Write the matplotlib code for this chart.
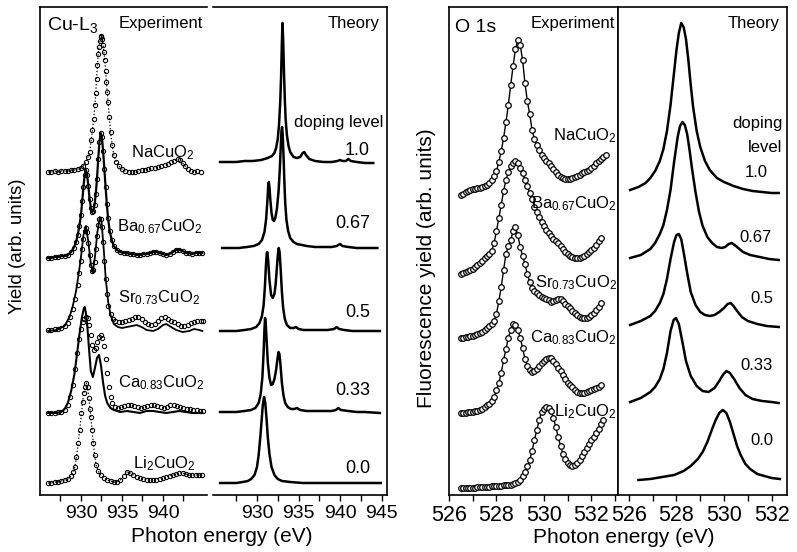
import numpy as np
import matplotlib.pyplot as plt

plt.rcParams['font.family'] = ['Liberation Sans', 'DejaVu Sans']
plt.rcParams['mathtext.default'] = 'regular'

# ---------------- Cu L3 edge, experiment (photon energy in eV, yield in arb. units, curves stacked) ----------------
na_e = [926.0, 926.4, 926.8, 927.2, 927.6, 928.0, 928.4, 928.8, 929.2, 929.6, 930.0, 930.3, 930.6, 930.85, 931.05,
        931.25, 931.4, 931.55, 931.7, 931.8, 931.9, 932.0, 932.1, 932.2, 932.3, 932.4, 932.5, 932.6, 932.7, 932.8,
        932.9, 933.0, 933.1, 933.2, 933.3, 933.45, 933.6, 933.8, 934.0, 934.3, 934.6, 935.0, 935.4, 935.8, 936.2,
        936.6, 937.0, 937.4, 937.8, 938.2, 938.6, 939.0, 939.4, 939.8, 940.2, 940.6, 941.0, 941.4, 941.8, 942.1,
        942.4, 942.7, 943.0, 943.4, 943.8, 944.2, 944.6]
na_y = [325, 325, 326, 325, 326, 326, 326, 327, 327, 328, 329, 331, 335, 340, 345, 357, 367, 378, 392, 404,
        418, 432, 443, 450, 456, 460, 461, 458, 452, 445, 437, 426, 415, 405, 395, 380, 365, 352, 342, 335,
        331, 328, 326, 325, 325, 325, 326, 327, 327, 328, 329, 329, 330, 331, 332, 333, 335, 336, 338, 337,
        334, 331, 328, 326, 325, 326, 325]

ba_e = [926.0, 926.4, 926.8, 927.2, 927.6, 928.0, 928.4, 928.8, 929.1, 929.4, 929.6, 929.8, 930.0, 930.15, 930.3,
        930.45, 930.6, 930.75, 930.9, 931.05, 931.2, 931.35, 931.5, 931.65, 931.8, 931.95, 932.1, 932.25, 932.4,
        932.55, 932.7, 932.85, 933.0, 933.15, 933.3, 933.5, 933.75, 934.0, 934.4, 934.8, 935.2, 935.6, 936.0,
        936.4, 936.8, 937.2, 937.6, 938.0, 938.4, 938.8, 939.2, 939.6, 940.0, 940.4, 940.8, 941.2, 941.6, 942.0,
        942.4, 942.8, 943.2, 943.6, 944.0, 944.4, 944.8]
ba_y = [239, 239, 240, 240, 241, 241, 242, 245, 249, 255, 262, 271, 282, 296, 310, 322, 327, 322, 311, 298,
        289, 285, 286, 292, 303, 318, 338, 355, 364, 360, 346, 328, 310, 293, 279, 266, 257, 251, 247, 245,
        244, 244, 243, 243, 242, 242, 243, 243, 244, 245, 245, 244, 243, 242, 243, 245, 247, 247, 246, 244,
        244, 243, 244, 244, 244]

sr_e = [926.0, 926.4, 926.8, 927.2, 927.6, 928.0, 928.4, 928.7, 929.0, 929.3, 929.6, 929.8, 930.0, 930.15, 930.3,
        930.45, 930.6, 930.75, 930.9, 931.05, 931.2, 931.35, 931.5, 931.65, 931.8, 931.95, 932.1, 932.25, 932.4,
        932.55, 932.7, 932.85, 933.0, 933.15, 933.35, 933.6, 933.9, 934.2, 934.6, 935.0, 935.4, 935.8, 936.2,
        936.6, 937.0, 937.4, 937.8, 938.2, 938.6, 939.0, 939.4, 939.8, 940.2, 940.6, 941.0, 941.4, 941.8, 942.2,
        942.6, 943.0, 943.4, 943.8, 944.2, 944.6, 944.9]
sr_y = [167, 167, 168, 168, 169, 171, 174, 180, 188, 198, 212, 224, 236, 248, 258, 266, 269, 265, 254, 242,
        232, 226, 227, 235, 248, 261, 272, 278, 278, 270, 255, 236, 218, 203, 191, 183, 178, 176, 175, 175,
        176, 177, 178, 180, 180, 178, 175, 173, 172, 173, 176, 179, 180, 178, 176, 175, 173, 171, 171, 172,
        174, 175, 176, 176, 176]
sr_line_e = [926.0, 927.0, 928.0, 928.6, 929.0, 929.4, 929.7, 930.0, 930.3, 930.6, 930.9, 931.2, 931.45, 931.7,
             932.0, 932.3, 932.5, 932.8, 933.0, 933.3, 933.6, 934.0, 934.5, 935.0, 935.6, 936.2, 936.8, 937.4,
             938.0, 938.8, 939.4, 940.0, 940.4, 941.0, 941.6, 942.4, 943.2, 943.8, 944.4, 944.8]
sr_line_y = [166, 167, 171, 180, 191, 206, 222, 240, 262, 271, 255, 233, 225, 240, 265, 280, 276, 245, 220, 196,
             182, 173, 170, 169, 170, 171, 172, 170, 167, 166, 168, 172, 173, 170, 167, 165, 166, 168, 167, 166]

ca_e = [926.0, 926.4, 926.8, 927.2, 927.6, 928.0, 928.4, 928.7, 929.0, 929.3, 929.55, 929.8, 930.0, 930.2, 930.4,
        930.6, 930.8, 931.0, 931.2, 931.4, 931.6, 931.8, 932.0, 932.2, 932.4, 932.6, 932.8, 933.0, 933.2, 933.4,
        933.6, 933.8, 934.1, 934.5, 934.9, 935.3, 935.7, 936.1, 936.5, 936.9, 937.3, 937.7, 938.1, 938.5, 938.9,
        939.3, 939.7, 940.1, 940.5, 940.9, 941.3, 941.7, 942.1, 942.5, 942.9, 943.3, 943.7, 944.1, 944.5, 944.9]
ca_y = [84, 84, 84, 85, 85, 87, 92, 100, 112, 128, 144, 158, 168, 175, 178, 180, 179, 172, 162, 152,
        147, 149, 155, 160, 162, 159, 151, 138, 124, 110, 100, 94, 90, 89, 90, 91, 92, 92, 91, 90,
        89, 90, 91, 92, 92, 91, 90, 89, 90, 92, 92, 91, 90, 89, 88, 88, 87, 87, 86, 86]
ca_line_e = [926.0, 926.8, 927.6, 928.0, 928.4, 928.8, 929.2, 929.5, 929.8, 930.1, 930.3, 930.45, 930.6, 930.8,
             931.0, 931.2, 931.45, 931.7, 931.95, 932.2, 932.45, 932.7, 932.95, 933.2, 933.6, 934.0, 934.8, 935.6,
             936.4, 937.2, 938.0, 938.8, 939.6, 940.4, 941.2, 942.0, 942.8, 943.6, 944.4, 944.8]
ca_line_y = [84, 84, 85, 88, 94, 106, 123, 142, 162, 179, 187, 190, 184, 168, 146, 126, 120, 129, 139, 142,
             131, 114, 101, 94, 89, 87, 85, 86, 85, 84, 86, 86, 85, 84, 85, 86, 85, 84, 84, 84]

li_e = [926.0, 926.4, 926.8, 927.2, 927.6, 928.0, 928.4, 928.8, 929.05, 929.25, 929.45, 929.65, 929.85, 930.05,
        930.2, 930.35, 930.5, 930.65, 930.8, 930.95, 931.1, 931.2, 931.35, 931.5, 931.65, 931.85, 932.1, 932.4,
        932.8, 933.2, 933.6, 934.0, 934.4, 934.8, 935.2, 935.6, 936.0, 936.4, 936.8, 937.2, 937.6, 938.0, 938.4,
        938.8, 939.2, 939.6, 940.0, 940.4, 940.8, 941.2, 941.6, 942.0, 942.4, 942.8, 943.2, 943.6, 944.0, 944.4,
        944.7]
li_y = [14, 14, 15, 15, 16, 17, 18, 21, 25, 30, 40, 54, 67, 84, 95, 104, 110, 114, 110, 99,
        88, 80, 67, 54, 42, 32, 26, 22, 19, 17, 16, 15, 15, 17, 21, 25, 24, 22, 20, 19,
        18, 17, 17, 17, 17, 18, 19, 20, 21, 22, 23, 24, 24, 23, 22, 22, 22, 22, 22]

# ---------------- Cu L3 edge, theory (doping levels 1.0 ... 0.0) ----------------
cu_th10_e = [925.55, 926.5, 927.5, 928.5, 929.5, 930.5, 931.3, 931.8, 932.1, 932.3, 932.5, 932.65, 932.8, 932.9,
             933.0, 933.07, 933.15, 933.25, 933.35, 933.45, 933.6, 933.8, 934.0, 934.4, 934.8, 935.2, 935.5,
             935.7, 935.9, 936.3, 937.0, 938.0, 939.0, 939.7, 940.0, 940.3, 940.7, 941.0, 941.3, 942.0, 943.0,
             944.0]
cu_th10_y = [335, 335, 335, 336, 336, 337, 339, 341, 344, 349, 358, 372, 395, 420, 455, 474, 458, 425, 398, 378,
             362, 351, 345, 340, 339, 340, 344, 345, 342, 338, 336, 335, 335, 336, 337, 336, 336, 338, 336, 335,
             334, 334]
cu_th067_e = [925.8, 926.8, 927.8, 928.8, 929.6, 930.2, 930.6, 930.9, 931.1, 931.25, 931.35, 931.42, 931.5, 931.6,
              931.75, 931.9, 932.05, 932.2, 932.4, 932.6, 932.75, 932.87, 932.95, 933.02, 933.1, 933.2, 933.3,
              933.4, 933.55, 933.75, 934.0, 934.4, 934.8, 935.4, 936.0, 937.0, 938.0, 939.0, 939.6, 940.0, 940.3,
              941.0, 942.0, 943.0, 944.0, 944.5]
cu_th067_y = [249, 249, 249, 250, 251, 253, 257, 265, 278, 296, 311, 315, 310, 298, 284, 277, 276, 279, 288, 306,
              328, 352, 366, 370, 362, 340, 315, 294, 277, 266, 259, 255, 253, 252, 251, 250, 250, 250, 251, 253,
              251, 250, 249, 249, 249, 249]
cu_th05_e = [925.55, 926.5, 927.5, 928.5, 929.3, 929.9, 930.3, 930.6, 930.8, 930.95, 931.08, 931.18, 931.25, 931.35,
             931.5, 931.7, 931.9, 932.1, 932.25, 932.4, 932.52, 932.62, 932.72, 932.85, 933.0, 933.15, 933.35,
             933.6, 934.0, 934.4, 934.7, 935.0, 935.6, 936.5, 937.5, 938.5, 939.3, 939.6, 939.9, 940.5, 941.5,
             942.5, 943.5, 944.8]
cu_th05_y = [166, 166, 166, 167, 168, 170, 174, 181, 192, 210, 232, 244, 245, 236, 217, 202, 199, 203, 213, 230,
             243, 249, 245, 228, 205, 189, 178, 172, 169, 169, 170, 168, 167, 167, 167, 167, 168, 170, 168, 167,
             166, 166, 166, 166]
cu_th033_e = [925.55, 926.5, 927.5, 928.5, 929.3, 929.8, 930.2, 930.45, 930.65, 930.8, 930.9, 930.97, 931.05,
              931.15, 931.3, 931.5, 931.7, 931.9, 932.1, 932.3, 932.48, 932.6, 932.7, 932.82, 933.0, 933.2, 933.4,
              933.7, 934.1, 934.5, 934.8, 935.2, 936.0, 937.0, 938.0, 939.0, 939.5, 939.8, 940.1, 941.0, 942.0,
              943.0, 944.8]
cu_th033_y = [85, 85, 85, 86, 87, 89, 94, 103, 120, 145, 168, 179, 174, 158, 135, 119, 112, 113, 118, 127,
              139, 145, 143, 133, 114, 101, 94, 90, 88, 88, 89, 87, 86, 86, 86, 86, 87, 89, 87, 86,
              85, 85, 84]
cu_th00_e = [925.55, 926.5, 927.5, 928.3, 928.9, 929.3, 929.7, 930.0, 930.2, 930.4, 930.55, 930.7, 930.85, 931.0,
             931.15, 931.3, 931.5, 931.75, 932.1, 932.5, 933.0, 934.0, 935.5, 937.0, 939.0, 941.0, 943.0, 944.9]
cu_th00_y = [14, 14, 14, 15, 16, 18, 22, 30, 42, 60, 76, 92, 100, 94, 78, 60, 43, 30, 22, 18,
             16, 15, 14, 14, 14, 14, 14, 14]

# ---------------- O 1s edge, experiment (0.1 eV steps) ----------------
o_e = [526.5, 526.6, 526.7, 526.8, 526.9, 527.0, 527.1, 527.2, 527.3, 527.4,
       527.5, 527.6, 527.7, 527.8, 527.9, 528.0, 528.1, 528.2, 528.3, 528.4,
       528.5, 528.6, 528.7, 528.8, 528.9, 529.0, 529.1, 529.2, 529.3, 529.4,
       529.5, 529.6, 529.7, 529.8, 529.9, 530.0, 530.1, 530.2, 530.3, 530.4,
       530.5, 530.6, 530.7, 530.8, 530.9, 531.0, 531.1, 531.2, 531.3, 531.4,
       531.5, 531.6, 531.7, 531.8, 531.9, 532.0, 532.1, 532.2, 532.3, 532.4,
       532.5, 532.6]
o_na = [302, 303, 305, 306, 307, 308, 308, 309, 309, 310,
        311, 312, 314, 317, 321, 326, 335, 346, 359, 375,
        392, 412, 431, 448, 457, 452, 437, 414, 396, 383,
        367, 358, 352, 347, 342, 339, 336, 334, 331, 328,
        325, 322, 320, 319, 318, 318, 318, 319, 320, 321,
        322, 324, 325, 326, 327, 329, 331, 334, 336, 338,
        340, 342]
o_ba = [223, 224, 225, 226, 227, 228, 230, 232, 234, 236,
        239, 241, 243, 246, 254, 266, 279, 292, 306, 317,
        325, 331, 334, 336, 334, 329, 324, 317, 311, 304,
        298, 290, 285, 280, 275, 271, 267, 264, 261, 258,
        256, 254, 251, 248, 245, 243, 241, 240, 239, 239,
        239, 240, 241, 243, 245, 247, 249, 252, 256, 259]
o_sr = [159, 159, 160, 160, 161, 161, 162, 163, 164, 165,
        167, 169, 171, 173, 176, 183, 196, 210, 227, 243,
        251, 257, 266, 270, 262, 250, 241, 233, 223, 215,
        209, 206, 204, 202, 200, 199, 198, 197, 195, 196,
        197, 198, 198, 196, 193, 191, 189, 186, 184, 182,
        180, 179, 179, 179, 180, 182, 184, 187, 190, 194]
o_ca = [84, 84, 84, 85, 85, 85, 86, 86, 87, 88,
        90, 92, 93, 96, 100, 107, 114, 124, 137, 148,
        159, 167, 173, 172, 167, 159, 149, 138, 131, 127,
        125, 126, 128, 131, 134, 136, 138, 139, 139, 136,
        133, 129, 126, 122, 118, 114, 112, 110, 107, 105,
        104, 104, 104, 105, 106, 107, 108, 109, 110, 112]
o_li = [9, 9, 9, 9, 9, 9, 9, 10, 10, 10,
        10, 10, 10, 11, 11, 11, 11, 11, 12, 12,
        12, 12, 13, 14, 15, 17, 21, 25, 31, 37,
        46, 57, 67, 77, 85, 88, 90, 89, 86, 79,
        70, 60, 51, 43, 38, 34, 32, 31, 32, 34,
        37, 41, 45, 49, 53, 57, 60, 64, 68, 73,
        77]

# ---------------- O 1s edge, theory ----------------
o_th10_e = [526.05, 526.4, 526.7, 526.9, 527.1, 527.3, 527.45, 527.6, 527.75, 527.9, 528.0, 528.1, 528.2, 528.3,
            528.4, 528.5, 528.6, 528.7, 528.85, 529.0, 529.2, 529.4, 529.7, 530.0, 530.4, 530.8, 531.2, 531.6,
            532.0, 532.3]
o_th10_y = [307, 310, 314, 319, 326, 336, 348, 366, 392, 425, 447, 464, 474, 470, 458, 437, 412, 390, 366, 350,
            336, 327, 319, 315, 311, 308, 306, 305, 304, 304]
o_th067_e = [526.05, 526.5, 526.9, 527.1, 527.3, 527.45, 527.6, 527.75, 527.9, 528.05, 528.15, 528.25, 528.35,
             528.45, 528.55, 528.65, 528.8, 528.95, 529.1, 529.3, 529.5, 529.7, 529.9, 530.05, 530.2, 530.32,
             530.45, 530.6, 530.8, 531.1, 531.5, 531.9, 532.3]
o_th067_y = [239, 242, 248, 254, 263, 272, 287, 307, 335, 360, 371, 375, 372, 363, 347, 329, 305, 285, 271, 260,
             254, 250, 249, 250, 253, 254, 252, 249, 245, 242, 240, 238, 237]
o_th05_e = [526.05, 526.5, 526.9, 527.1, 527.3, 527.45, 527.6, 527.75, 527.9, 528.0, 528.1, 528.2, 528.3, 528.45,
            528.6, 528.8, 529.0, 529.2, 529.4, 529.6, 529.8, 530.0, 530.15, 530.28, 530.4, 530.55, 530.75, 531.0,
            531.4, 531.8, 532.3]
o_th05_y = [172, 176, 181, 186, 194, 203, 218, 238, 255, 262, 263, 258, 245, 224, 205, 192, 185, 182, 181, 182,
            185, 189, 193, 194, 191, 186, 180, 176, 173, 171, 170]
o_th033_e = [526.05, 526.5, 526.9, 527.1, 527.3, 527.45, 527.6, 527.75, 527.88, 527.98, 528.1, 528.25, 528.4,
             528.6, 528.85, 529.1, 529.35, 529.6, 529.8, 529.95, 530.1, 530.25, 530.45, 530.65, 530.9, 531.2,
             531.6, 532.0, 532.3]
o_th033_y = [95, 99, 105, 110, 118, 128, 144, 166, 177, 179, 173, 155, 136, 121, 111, 106, 105, 109, 116, 122,
             126, 124, 117, 109, 102, 98, 96, 95, 94]
o_th00_e = [526.4, 526.9, 527.4, 527.9, 528.3, 528.6, 528.9, 529.1, 529.3, 529.5, 529.65, 529.8, 529.95, 530.1,
            530.25, 530.4, 530.55, 530.7, 530.9, 531.1, 531.4, 531.7, 532.0, 532.35]
o_th00_y = [17, 18, 20, 22, 26, 31, 38, 45, 55, 68, 77, 84, 87, 84, 75, 63, 51, 42, 33, 28,
            23, 21, 19, 18]

# ---------------- layout ----------------
W, H = 797, 552
fig = plt.figure(figsize=(W / 100, H / 100), dpi=100)


def box(x0, x1, y0=7, y1=495):
    return [x0 / W, (H - y1) / H, (x1 - x0) / W, (y1 - y0) / H]


ax_ce = fig.add_axes(box(40, 207))
ax_ct = fig.add_axes(box(213, 387))
ax_oe = fig.add_axes(box(449, 618))
ax_ot = fig.add_axes(box(618, 787))

ax_ce.set_xlim(925, 945.37)
ax_ct.set_xlim(924.7, 945.66)
ax_oe.set_xlim(526, 533.12)
ax_ot.set_xlim(525.54, 532.65)

for ax in (ax_ce, ax_ct, ax_oe, ax_ot):
    ax.set_ylim(2, 490)
    ax.set_yticks([])
    for s in ax.spines.values():
        s.set_linewidth(1.2)
    ax.tick_params(axis='x', which='both', direction='out', length=4, width=1.0, pad=3)

ax_ce.spines['right'].set_visible(False)
ax_ct.spines['left'].set_visible(False)

ax_ce.set_xticks([930, 935, 940])
ax_ce.set_xticks([927.5, 932.5, 937.5, 942.5], minor=True)
ax_ct.set_xticks([930, 935, 940, 945])
ax_ct.set_xticks([927.5, 932.5, 937.5, 942.5], minor=True)
ax_oe.set_xticks([526, 528, 530, 532])
ax_oe.set_xticks([527, 529, 531, 533], minor=True)
ax_ot.set_xticks([526, 528, 530, 532])
ax_ot.set_xticks([527, 529, 531], minor=True)
for ax in (ax_ce, ax_ct):
    ax.tick_params(axis='x', labelsize=14)
for ax in (ax_oe, ax_ot):
    ax.tick_params(axis='x', labelsize=15.5)

# Cu experiment
circ = dict(marker='o', ms=3.1, mfc='none', mec='k', mew=0.75, ls='none')
ax_ce.plot(na_e, na_y, ls=':', color='k', lw=0.9)
ax_ce.plot(na_e, na_y, **circ)
ax_ce.plot(ba_e, ba_y, '-', color='k', lw=1.6)
ax_ce.plot(ba_e, ba_y, **circ)
ax_ce.plot(sr_line_e, sr_line_y, '-', color='k', lw=1.3)
ax_ce.plot(sr_e, sr_y, **circ)
ax_ce.plot(ca_line_e, ca_line_y, '-', color='k', lw=1.5)
ax_ce.plot(ca_e, ca_y, **circ)
ax_ce.plot(li_e, li_y, ls=':', color='k', lw=0.9)
ax_ce.plot(li_e, li_y, **circ)

# Cu theory
for e, y in [(cu_th10_e, cu_th10_y), (cu_th067_e, cu_th067_y), (cu_th05_e, cu_th05_y),
             (cu_th033_e, cu_th033_y), (cu_th00_e, cu_th00_y)]:
    ax_ct.plot(e, y, '-', color='k', lw=1.8)

# O experiment
for y in (o_na, o_ba, o_sr, o_ca, o_li):
    ax_oe.plot(o_e[:len(y)], y, '-', color='k', lw=1.0, marker='o', ms=4.0, mfc='white', mec='k', mew=0.9)

# O theory
for e, y in [(o_th10_e, o_th10_y), (o_th067_e, o_th067_y), (o_th05_e, o_th05_y),
             (o_th033_e, o_th033_y), (o_th00_e, o_th00_y)]:
    ax_ot.plot(e, y, '-', color='k', lw=1.8)

# ---------------- labels ----------------
lab = dict(ha='right', va='baseline', fontsize=12)
ax_ce.text(925.85, 467, 'Cu-L$_3$', ha='left', va='baseline', fontsize=14)
ax_ce.text(944.9, 469, 'Experiment', **lab)
ax_ce.text(943.9, 340, 'NaCuO$_2$', **lab)
ax_ce.text(944.9, 266, 'Ba$_{0.67}$CuO$_2$', **lab)
ax_ce.text(944.5, 195, 'Sr$_{0.73}$CuO$_2$', **lab)
ax_ce.text(945.1, 110, 'Ca$_{0.83}$CuO$_2$', **lab)
ax_ce.text(943.9, 29, 'Li$_2$CuO$_2$', **lab)

num = dict(ha='right', va='baseline', fontsize=13)
ax_ct.text(944.8, 469, 'Theory', **lab)
ax_ct.text(945.2, 370, 'doping level', **lab)
ax_ct.text(943.6, 342, '1.0', **num)
ax_ct.text(943.6, 269, '0.67', **num)
ax_ct.text(943.6, 180, '0.5', **num)
ax_ct.text(943.7, 102, '0.33', **num)
ax_ct.text(943.6, 24, '0.0', **num)

ax_oe.text(526.25, 465, 'O 1s', ha='left', va='baseline', fontsize=14)
ax_oe.text(532.99, 469, 'Experiment', **lab)
ax_oe.text(533.07, 357, 'NaCuO$_2$', **lab)
ax_oe.text(533.07, 289, 'Ba$_{0.67}$CuO$_2$', **lab)
ax_oe.text(533.07, 210, 'Sr$_{0.73}$CuO$_2$', **lab)
ax_oe.text(533.07, 155, 'Ca$_{0.83}$CuO$_2$', **lab)
ax_oe.text(533.07, 81, 'Li$_2$CuO$_2$', **lab)

onum = dict(ha='right', va='baseline', fontsize=12)
ax_ot.text(532.36, 469, 'Theory', **lab)
ax_ot.text(532.48, 369, 'doping', **onum)
ax_ot.text(532.44, 345, 'level', **onum)
ax_ot.text(531.85, 320, '1.0', **onum)
ax_ot.text(532.02, 255, '0.67', **onum)
ax_ot.text(532.06, 194, '0.5', **onum)
ax_ot.text(532.06, 127, '0.33', **onum)
ax_ot.text(532.06, 52, '0.0', **onum)

fig.text(222 / W, (H - 542) / H, 'Photon energy (eV)', ha='center', va='baseline', fontsize=15)
fig.text(624 / W, (H - 543) / H, 'Photon energy (eV)', ha='center', va='baseline', fontsize=15)
fig.text(17.5 / W, 0.553, 'Yield (arb. units)', rotation=90, ha='center', va='center', fontsize=13.5)
fig.text(426 / W, 0.515, 'Fluorescence yield (arb. units)', rotation=90, ha='center', va='center', fontsize=15)

fig.savefig('out.png', dpi=100)
